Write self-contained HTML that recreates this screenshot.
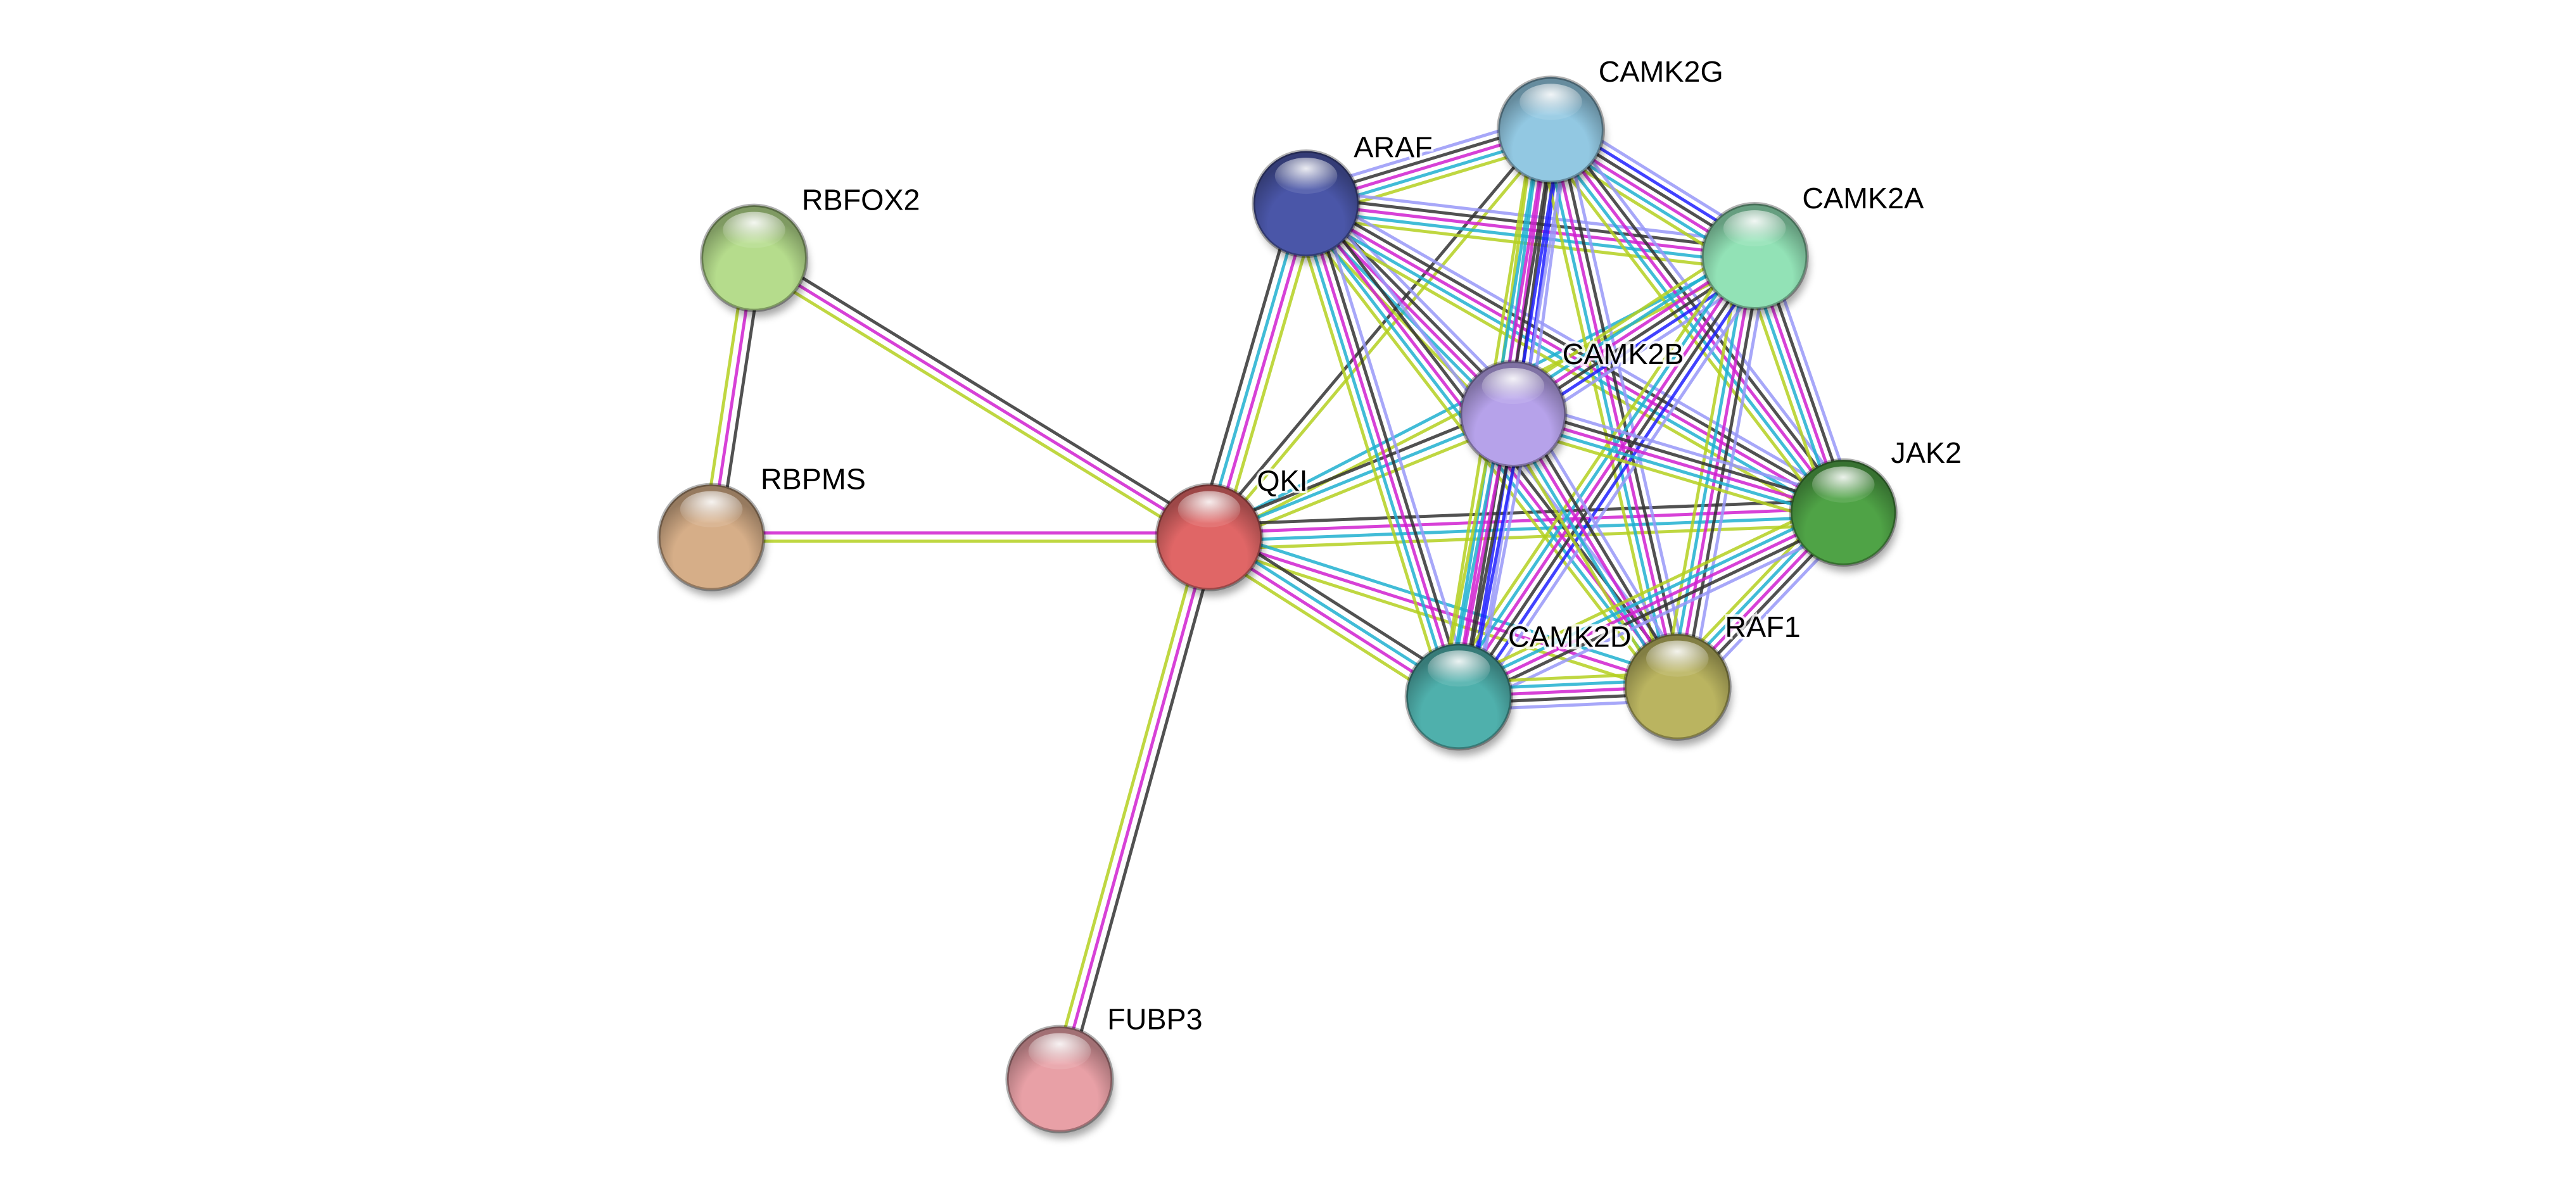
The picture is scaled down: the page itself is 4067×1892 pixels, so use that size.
<!DOCTYPE html>
<html><head><meta charset="utf-8"><style>
html,body{margin:0;padding:0;background:#fff;}
svg{display:block;}
text{font-family:"Liberation Sans",sans-serif;font-size:18px;fill:#000;paint-order:stroke;stroke:#fff;stroke-width:3px;stroke-opacity:0.8;}
</style></head><body>
<svg id="s" width="4067" height="1892" viewBox="0 0 1568 729.4" preserveAspectRatio="none" xmlns="http://www.w3.org/2000/svg">
<defs>
<radialGradient id="hl" cx="50%" cy="30%" r="60%">
<stop offset="0" stop-color="#fff" stop-opacity="0.9"/><stop offset="1" stop-color="#fff" stop-opacity="0.1"/>
</radialGradient>
<radialGradient id="dk" cx="50%" cy="70%" r="60%">
<stop offset="0.6" stop-color="#000" stop-opacity="0"/><stop offset="1" stop-color="#000" stop-opacity="0.3"/>
</radialGradient>
<filter id="sh" x="-30%" y="-30%" width="160%" height="170%"><feGaussianBlur stdDeviation="2.5"/></filter>
</defs>
<g id="edges"></g>
<g id="nodes"></g>
<g id="labels">
<text x="765" y="294" dominant-baseline="middle">QKI</text>
<text x="488" y="123" dominant-baseline="middle">RBFOX2</text>
<text x="463" y="293" dominant-baseline="middle">RBPMS</text>
<text x="674" y="622" dominant-baseline="middle">FUBP3</text>
<text x="824" y="91" dominant-baseline="middle">ARAF</text>
<text x="973" y="45" dominant-baseline="middle">CAMK2G</text>
<text x="1097" y="122" dominant-baseline="middle">CAMK2A</text>
<text x="951" y="217" dominant-baseline="middle">CAMK2B</text>
<text x="1151" y="277" dominant-baseline="middle">JAK2</text>
<text x="1050" y="383" dominant-baseline="middle">RAF1</text>
<text x="918" y="389" dominant-baseline="middle">CAMK2D</text>
</g>
</svg>
<script>
var N={QKI:[736,327,'#e06666'],RBFOX2:[459,157,'#b5dc8c'],RBPMS:[433,327,'#d6ae88'],FUBP3:[645,657,'#e8a0a6'],
ARAF:[795,124,'#4a56a8'],CAMK2G:[944,79,'#92c8e2'],CAMK2A:[1068,156,'#92e2b6'],CAMK2B:[921,252,'#b6a2ea'],
JAK2:[1122,312,'#4fa346'],RAF1:[1021,418,'#bab460'],CAMK2D:[888,424,'#4fb0ac']};
var K='#333',M='#d020d0',Y='#b4d020',C='#20b0d0',B='#2020ff',L='#9898f8';
var E=[['RBFOX2','RBPMS',[K,M,Y]],['RBFOX2','QKI',[K,M,Y]],['RBPMS','QKI',[M,Y]],['QKI','FUBP3',[K,M,Y]],
['QKI','ARAF',[K,C,M,Y]],['QKI','CAMK2G',[K,Y]],['QKI','CAMK2A',[C,Y]],['QKI','CAMK2B',[K,C,Y]],
['QKI','JAK2',[K,M,C,Y]],['QKI','RAF1',[C,M,Y]],['QKI','CAMK2D',[K,C,M,Y]]];
var kin=['ARAF','CAMK2G','CAMK2A','CAMK2B','JAK2','RAF1','CAMK2D'];
for(var i=0;i<kin.length;i++)for(var j=i+1;j<kin.length;j++){
 var a=kin[i],b=kin[j],c;
 var cam=function(x){return x.indexOf('CAMK')==0};
 if(cam(a)&&cam(b))c=[L,B,K,M,C,Y];
 else c=[L,K,M,C,Y];
 E.push([a,b,c]);}
var g=document.getElementById('edges'),s='';
E.forEach(function(e){var p=N[e[0]],q=N[e[1]],dx=q[0]-p[0],dy=q[1]-p[1],l=Math.hypot(dx,dy),nx=-dy/l,ny=dx/l,n=e[2].length;
 var sp=n>4?4.2:5;
 e[2].forEach(function(col,k){var o=(k-(n-1)/2)*sp;
 s+='<line x1="'+(p[0]+nx*o)+'" y1="'+(p[1]+ny*o)+'" x2="'+(q[0]+nx*o)+'" y2="'+(q[1]+ny*o)+'" stroke="'+col+'" stroke-width="1.9" stroke-opacity="0.85"/>';});});
g.innerHTML=s;
var h='';
for(var k in N){var n=N[k];
 h+='<circle cx="'+(n[0]+2)+'" cy="'+(n[1]+5)+'" r="31" fill="#000" opacity="0.35" filter="url(#sh)"/>';
 h+='<circle cx="'+n[0]+'" cy="'+n[1]+'" r="32" fill="'+n[2]+'"/>';
 h+='<circle cx="'+n[0]+'" cy="'+n[1]+'" r="32" fill="url(#dk)"/>';
 h+='<circle cx="'+n[0]+'" cy="'+n[1]+'" r="32" fill="none" stroke="#000" stroke-opacity="0.3" stroke-width="2"/>';
 h+='<ellipse cx="'+n[0]+'" cy="'+(n[1]-17)+'" rx="19" ry="11" fill="url(#hl)"/>';}
document.getElementById('nodes').innerHTML=h;
</script>
</body></html>
